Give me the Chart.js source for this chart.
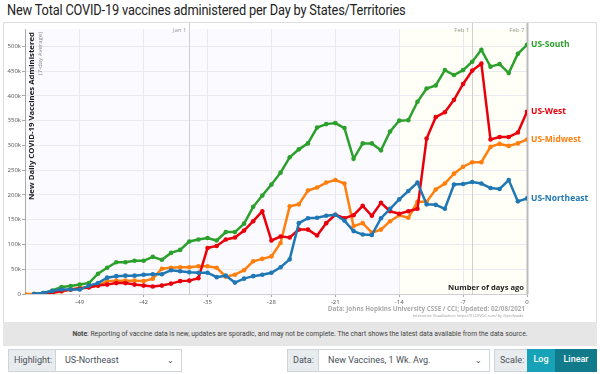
<!DOCTYPE html>
<html>
<head>
<meta charset="utf-8">
<script src="https://cdn.jsdelivr.net/npm/chart.js@4"></script>
<style>
  body { margin: 0; width: 600px; height: 374px; overflow: hidden; background: #fff; font-family: Roboto, sans-serif; position: relative; }
  #title { position: absolute; left: 7px; top: 2px; font-size: 14px; color: #222; white-space: nowrap; letter-spacing: -0.2px; transform: scaleX(0.915); transform-origin: left top; }
  #box { position: absolute; left: 3px; top: 22px; width: 592px; height: 299px; border: 1px solid #ddd; }
  #chart { position: absolute; left: 0; top: 0; }
  #note { position: absolute; left: 3px; top: 322px; width: 594px; height: 24px; background: #e6e6e6; font-size: 6.8px; color: #444; text-align: center; line-height: 24px; white-space: nowrap; }
  .ctl { position: absolute; top: 349px; height: 23px; box-sizing: border-box; font-size: 9px; line-height: 21px; white-space: nowrap; }
  .lab { background: #e9ecef; border: 1px solid #ced4da; color: #495057; padding-left: 5px; }
  .sel { background: #fff; border: 1px solid #ced4da; color: #495057; padding-left: 9px; }
  .sel span { position: absolute; right: 7px; top: 0; font-size: 8px; }
  .btn { color: #fff; text-align: center; font-weight: 500; }
</style>
</head>
<body>
<div id="title">New Total COVID-19 vaccines administered per Day by States/Territories</div>
<div id="box"></div>
<canvas id="chart" width="600" height="320"></canvas>
<div id="note"><b>Note</b>: Reporting of vaccine data is new, updates are sporadic, and may not be complete. The chart shows the latest data available from the data source.</div>
<div class="ctl lab" style="left:8px;width:48px;">Highlight:</div>
<div class="ctl sel" style="left:55px;width:127px;">US-Northeast<span>&#8964;</span></div>
<div class="ctl lab" style="left:287px;width:32px;">Data:</div>
<div class="ctl sel" style="left:318px;width:172px;">New Vaccines, 1 Wk. Avg.<span>&#8964;</span></div>
<div class="ctl lab" style="left:494px;width:34px;">Scale:</div>
<div class="ctl btn" style="left:527px;width:28px;background:#17a2b8;">Log</div>
<div class="ctl btn" style="left:555px;width:42px;background:#117a8b;">Linear</div>
<script>
//--------------------- Data ---------------------

// days ago (0 = Feb 7)
const days = [-55, -54, -53, -52, -51, -50, -49, -48, -47, -46, -45, -44, -43, -42, -41, -40, -39, -38, -37, -36,
  -35, -34, -33, -32, -31, -30, -29, -28, -27, -26, -25, -24, -23, -22, -21, -20, -19, -18, -17, -16,
  -15, -14, -13, -12, -11, -10, -9, -8, -7, -6, -5, -4, -3, -2, -1, 0];

// thousands of doses per day, 7-day average
const usNortheast = [null, 0, 2, 6, 9, 9, 9, 17, 22, 33, 36, 37, 37, 39, 40, 40, 48, 46, 44, 43,
  43, 34, 37, 23, 31, 36, 39, 43, 54, 70, 143, 153, 154, 158, 160, 148, 127, 120, 119, 153,
  172, 191, 208, 225, 181, 180, 172, 221, 222, 226, 223, 214, 212, 230, 187, 193];
const usSouth = [null, 0, 2, 7, 14, 16, 19, 22, 41, 53, 64, 64, 67, 67, 75, 69, 83, 89, 106, 110,
  113, 108, 125, 125, 142, 176, 199, 221, 245, 276, 292, 304, 336, 343, 345, 335, 273, 304, 304, 290,
  328, 350, 351, 388, 415, 421, 452, 442, 452, 469, 493, 459, 464, 446, 485, 503];
const usWest = [null, 0, 1, 3, 6, 9, 11, 13, 17, 19, 22, 22, 19, 17, 15, 17, 21, 26, 27, 32,
  93, 97, 110, 114, 128, 147, 167, 108, 116, 114, 130, 130, 118, 143, 160, 153, 159, 178, 158, 184,
  167, 162, 167, 172, 314, 357, 367, 392, 424, 451, 465, 312, 317, 317, 326, 368];
const usMidwest = [0, 0, 0, 2, 5, 9, 12, 14, 17, 26, 27, 27, 27, 26, 31, 51, 53, 54, 54, 56,
  56, 53, 35, 39, 48, 66, 71, 76, 103, 177, 181, 209, 215, 225, 230, 223, 137, 143, 124, 130,
  147, 159, 154, 186, 186, 211, 223, 243, 257, 266, 266, 297, 303, 299, 304, 312];

const seriesNames = ["US-Northeast", "US-South", "US-West", "US-Midwest"];
const seriesValues = [usNortheast, usSouth, usWest, usMidwest];
const seriesColors = ["#1f77b4", "#2ca02c", "#e8000b", "#ff7f0e"];

const xTicks = [-49, -42, -35, -28, -21, -14, -7, 0];
const yTicks = [0, 50, 100, 150, 200, 250, 300, 350, 400, 450, 500];

const dateLabels = ["Jan 1", "Feb 1", "Feb 7"];
const dateDays = [-37, -6, 0];
const recentFrom = -14;

const yTitle = "New Daily COVID-19 Vaccines Administered";
const ySubTitle = "(7-day Average)";
const xTitle = "Number of days ago";
const credit = "Data: Johns Hopkins University CSSE / CCI; Updated: 02/08/2021";
const credit2 = "Interactive Visualization: https://91-DIVOC.com/ by @profwade_";

//--------------------- Chart ---------------------

const FONT = "'Open Sans', sans-serif";

const toPoints = (vals) => vals.map((v, i) => ({ x: days[i], y: v === null ? null : v * 1000 }));

const datasets = seriesNames.map((name, i) => ({
  label: name,
  data: toPoints(seriesValues[i]),
  borderColor: seriesColors[i],
  backgroundColor: seriesColors[i],
  borderWidth: 2.5,
  pointRadius: 2.3,
  pointBorderWidth: 0,
  tension: 0,
  spanGaps: false,
}));

// plot background + recent-days tint
const backgroundPlugin = {
  id: "plotBg",
  beforeDraw(chart) {
    const { ctx, chartArea: a, scales } = chart;
    ctx.save();
    ctx.fillStyle = "#fbfaff";
    ctx.fillRect(a.left, a.top, a.right - a.left, a.bottom - a.top);
    const x0 = scales.x.getPixelForValue(recentFrom);
    ctx.fillStyle = "#fffff7";
    ctx.fillRect(x0, a.top, a.right - x0, a.bottom - a.top);
    ctx.restore();
  },
};

// calendar marker lines
const datePlugin = {
  id: "dateLines",
  beforeDatasetsDraw(chart) {
    const { ctx, chartArea: a, scales } = chart;
    ctx.save();
    dateDays.forEach((d, i) => {
      const x = Math.round(scales.x.getPixelForValue(d)) + 0.5;
      const last = i === dateDays.length - 1;
      ctx.strokeStyle = last ? "#bbbbbb" : "#d0d0d0";
      ctx.lineWidth = last ? 2 : 1;
      ctx.beginPath();
      ctx.moveTo(x, a.top - 6);
      ctx.lineTo(x, a.bottom);
      ctx.stroke();
      ctx.fillStyle = "#999";
      ctx.font = "6px " + FONT;
      ctx.textAlign = "right";
      ctx.textBaseline = "middle";
      ctx.fillText(dateLabels[i], x - 3, a.top + 1);
    });
    ctx.restore();
  },
};

// axis titles, end labels and credits
const labelPlugin = {
  id: "labels",
  afterDraw(chart) {
    const { ctx, chartArea: a } = chart;
    ctx.save();

    ctx.translate(a.left + 7, a.top + 3);
    ctx.rotate(-Math.PI / 2);
    ctx.textAlign = "right";
    ctx.textBaseline = "middle";
    ctx.fillStyle = "#222";
    ctx.font = "bold 7.8px " + FONT;
    ctx.fillText(yTitle, 0, 0);
    ctx.fillStyle = "#888";
    ctx.font = "6px " + FONT;
    ctx.fillText(ySubTitle, 0, 8);
    ctx.setTransform(1, 0, 0, 1, 0, 0);

    ctx.fillStyle = "#222";
    ctx.font = "bold 7.6px " + FONT;
    ctx.textAlign = "right";
    ctx.textBaseline = "middle";
    ctx.fillText(xTitle, a.right - 3, a.bottom - 6);

    chart.data.datasets.forEach((ds, i) => {
      const pts = chart.getDatasetMeta(i).data;
      const p = pts[pts.length - 1];
      ctx.fillStyle = seriesColors[i];
      ctx.font = "bold 8.5px " + FONT;
      ctx.textAlign = "left";
      ctx.fillText(ds.label, p.x + 4, p.y);
    });

    ctx.textAlign = "right";
    ctx.fillStyle = "#aaa";
    ctx.font = "bold 6.3px " + FONT;
    ctx.fillText(credit, a.right - 2, a.bottom + 15);
    ctx.font = "3.8px " + FONT;
    ctx.fillStyle = "#999";
    ctx.fillText(credit2, a.right - 2, a.bottom + 22);
    ctx.restore();
  },
};

new Chart(document.getElementById("chart"), {
  type: "line",
  data: { datasets },
  plugins: [backgroundPlugin, datePlugin, labelPlugin],
  options: {
    responsive: false,
    animation: false,
    devicePixelRatio: 1,
    layout: { padding: { left: 0, top: 29, right: 73, bottom: 0 } },
    plugins: { legend: { display: false }, tooltip: { enabled: false } },
    scales: {
      x: {
        type: "linear",
        min: -55,
        max: 0,
        afterFit: (s) => { s.height = 26; },
        afterBuildTicks: (s) => { s.ticks = xTicks.map((v) => ({ value: v })); },
        ticks: { font: { size: 6, family: FONT }, color: "#555", padding: 2, maxRotation: 0 },
        grid: { color: "#e9e9f0", tickLength: 3, tickColor: "#aaa" },
        border: { color: "#cfcfd6" },
      },
      y: {
        min: 0,
        max: 535000,
        afterFit: (s) => { s.width = 25; },
        afterBuildTicks: (s) => { s.ticks = yTicks.map((v) => ({ value: v * 1000 })); },
        ticks: {
          font: { size: 6, family: FONT },
          color: "#555",
          padding: 1,
          callback: (v) => (v === 0 ? "0" : v / 1000 + "k"),
        },
        grid: { color: "#e9e9f0", tickLength: 3, tickColor: "#aaa" },
        border: { color: "#aaa" },
      },
    },
  },
});
</script>
</body>
</html>
